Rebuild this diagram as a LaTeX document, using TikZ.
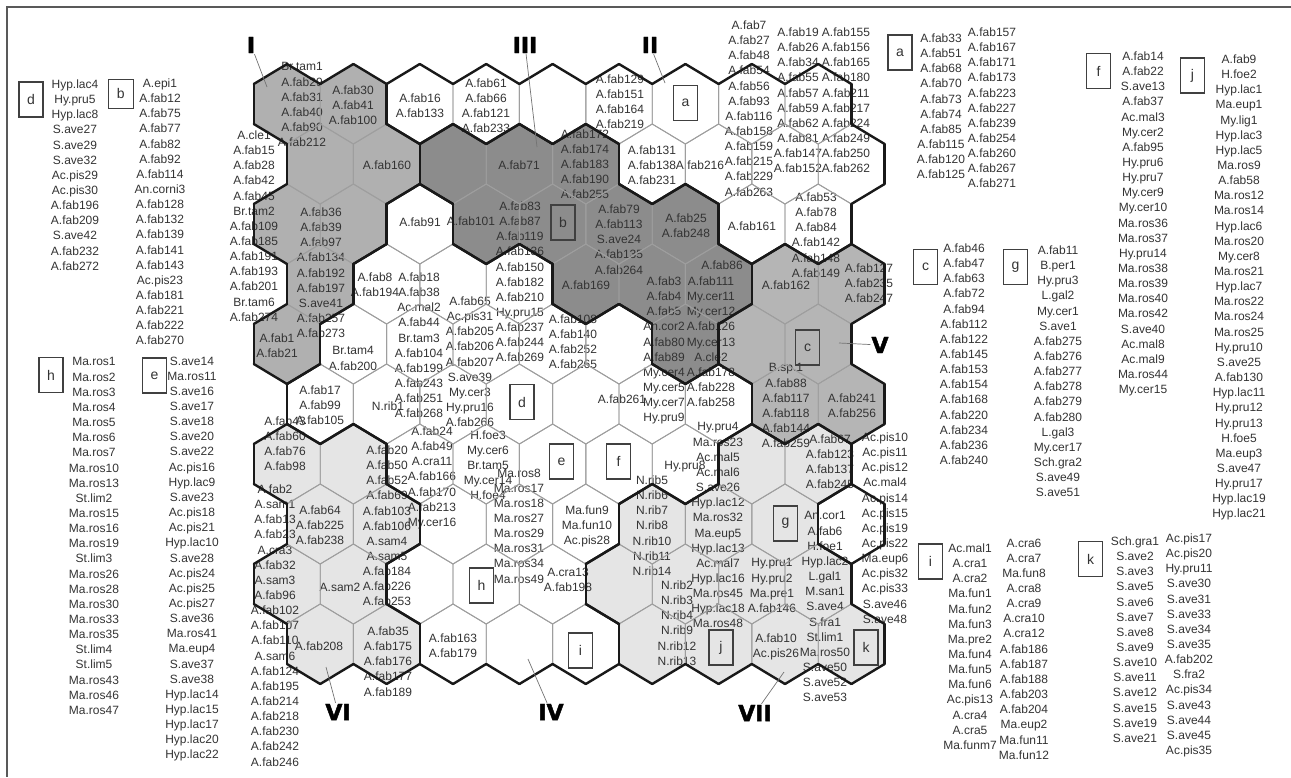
\documentclass[tikz,border=0pt]{standalone}
\usepackage{fontspec}
\setmainfont{Liberation Sans}
\newfontfamily\romfont{DejaVu Sans}[BoldFeatures={FakeBold=2}]

% cluster colours (by cluster id)
\colorlet{cl0}{white}
\colorlet{cl1}{black!31}
\colorlet{cl2}{white}
\colorlet{cl3}{black!45}
\colorlet{cl4}{white}
\colorlet{cl5}{black!29}
\colorlet{cl6}{black!10}
\colorlet{cl7}{black!10}
\colorlet{cl8}{white}

\newcommand\lblsize{\fontsize{12}{15.15}\selectfont}
\newcommand\tagsize{\fontsize{14}{14}\selectfont}
\newcommand\romsize{\fontsize{22}{22}\selectfont}

% cluster of every map unit, row by row (10 rows, 9 units)
\def\somgrid{{1,1,2,2,2,2,2,2,2,
              1,1,3,3,3,2,2,2,2,
              1,1,4,3,3,3,3,2,2,
              1,4,4,4,3,3,3,5,5,
              1,4,4,4,4,4,3,5,5,
              4,4,4,4,4,4,4,5,5,
              6,6,4,4,4,4,4,7,7,
              6,6,4,4,4,7,7,7,8,
              6,6,4,4,4,7,7,7,7,
              6,6,4,4,4,7,7,7,7}}

% cluster of unit (#1,#2) into \clv, 0 outside the map
\newcommand\somcl[2]{%
  \pgfmathtruncatemacro\cra{#1}%
  \pgfmathtruncatemacro\crb{#2}%
  \def\clv{0}%
  \ifnum\cra>-1 \ifnum\cra<10 \ifnum\crb>-1 \ifnum\crb<9
    \pgfmathtruncatemacro\clv{\somgrid[\cra*9+\crb]}%
  \fi\fi\fi\fi}

\tikzset{
  lbl/.style={font=\lblsize, align=center, inner sep=0pt, text=black!80, anchor=north, yshift=4.5pt},
  tag/.style={draw=black!75, line width=1.2pt, minimum width=24pt, minimum height=35pt, inner sep=0pt, font=\tagsize, text=black!80},
  roman/.style={font=\romfont\bfseries\romsize, inner sep=1pt},
  pointer/.style={draw=black!55, line width=0.7pt},
  hexline/.style={draw=black!38, line width=0.9pt},
  bnd/.style={draw=black!90, line width=2.4pt, line cap=round},
  frame/.style={draw=black!65, line width=1.2pt}
}

\begin{document}
\begin{tikzpicture}[x=1pt,y=-1pt]
    \useasboundingbox (0,0) rectangle (1291,777);
    \draw[frame] (1291,7) -- (7,7) -- (7,777);

    % Fill map units
    \foreach \r in {0,...,9}{
      \foreach \c in {0,...,8}{
        \pgfmathsetmacro\hx{287+66.4*\c+33.2*mod(\r,2)}
        \pgfmathsetmacro\hy{104+60*\r}
        \somcl{\r}{\c}
        \edef\hexcol{cl\clv}
        \fill[fill=\hexcol] (\hx,\hy) ++(0,-40) -- ++(33.2,20) -- ++(0,40) -- ++(-33.2,20) -- ++(-33.2,-20) -- ++(0,-40) -- cycle;
      }
    }

    % Side lists
    \node[tag] (tagd) at (31,99.5) {d};
    \node[lbl] (listd) at (75,84) {Hyp.lac4\\Hy.pru5\\Hyp.lac8\\S.ave27\\S.ave29\\S.ave32\\Ac.pis29\\Ac.pis30\\A.fab196\\A.fab209\\S.ave42\\A.fab232\\A.fab272};
    \node[tag, minimum width=25pt, minimum height=29pt] (tagb) at (120.8,93.8) {b};
    \node[lbl] (listb) at (160,83) {A.epi1\\A.fab12\\A.fab75\\A.fab77\\A.fab82\\A.fab92\\A.fab114\\An.corni3\\A.fab128\\A.fab132\\A.fab139\\A.fab141\\A.fab143\\Ac.pis23\\A.fab181\\A.fab221\\A.fab222\\A.fab270};
    \node[tag] (tagh) at (51,375) {h};
    \node[lbl] (listh) at (94,362) {Ma.ros1\\Ma.ros2\\Ma.ros3\\Ma.ros4\\Ma.ros5\\Ma.ros6\\Ma.ros7\\Ma.ros10\\Ma.ros13\\St.lim2\\Ma.ros15\\Ma.ros16\\Ma.ros19\\St.lim3\\Ma.ros26\\Ma.ros28\\Ma.ros30\\Ma.ros33\\Ma.ros35\\St.lim4\\St.lim5\\Ma.ros43\\Ma.ros46\\Ma.ros47};
    \node[tag] (tage) at (154.5,375.5) {e};
    \node[lbl] (liste) at (192,361) {S.ave14\\Ma.ros11\\S.ave16\\S.ave17\\S.ave18\\S.ave20\\S.ave22\\Ac.pis16\\Hyp.lac9\\S.ave23\\Ac.pis18\\Ac.pis21\\Hyp.lac10\\S.ave28\\Ac.pis24\\Ac.pis25\\Ac.pis27\\S.ave36\\Ma.ros41\\Ma.eup4\\S.ave37\\S.ave38\\Hyp.lac14\\Hyp.lac15\\Hyp.lac17\\Hyp.lac20\\Hyp.lac22};
    \node[tag] (taga) at (900,52.5) {a};
    \node[lbl] (lista) at (941,38) {A.fab33\\A.fab51\\A.fab68\\A.fab70\\A.fab73\\A.fab74\\A.fab85\\A.fab115\\A.fab120\\A.fab125};
    \node[lbl] (listaa) at (992,32) {A.fab157\\A.fab167\\A.fab171\\A.fab173\\A.fab223\\A.fab227\\A.fab239\\A.fab254\\A.fab260\\A.fab267\\A.fab271};
    \node[tag] (tagf) at (1098.5,71) {f};
    \node[lbl] (listf) at (1143,56) {A.fab14\\A.fab22\\S.ave13\\A.fab37\\Ac.mal3\\My.cer2\\A.fab95\\Hy.pru6\\Hy.pru7\\My.cer9\\My.cer10\\Ma.ros36\\Ma.ros37\\Hy.pru14\\Ma.ros38\\Ma.ros39\\Ma.ros40\\Ma.ros42\\S.ave40\\Ac.mal8\\Ac.mal9\\Ma.ros44\\My.cer15};
    \node[tag] (tagj) at (1192.5,75.5) {j};
    \node[lbl] (listj) at (1239,59) {A.fab9\\H.foe2\\Hyp.lac1\\Ma.eup1\\My.lig1\\Hyp.lac3\\Hyp.lac5\\Ma.ros9\\A.fab58\\Ma.ros12\\Ma.ros14\\Hyp.lac6\\Ma.ros20\\My.cer8\\Ma.ros21\\Hyp.lac7\\Ma.ros22\\Ma.ros24\\Ma.ros25\\Hy.pru10\\S.ave25\\A.fab130\\Hyp.lac11\\Hy.pru12\\Hy.pru13\\H.foe5\\Ma.eup3\\S.ave47\\Hy.pru17\\Hyp.lac19\\Hyp.lac21};
    \node[tag] (tagc) at (925.5,267) {c};
    \node[lbl] (listc) at (964,248) {A.fab46\\A.fab47\\A.fab63\\A.fab72\\A.fab94\\A.fab112\\A.fab122\\A.fab145\\A.fab153\\A.fab154\\A.fab168\\A.fab220\\A.fab234\\A.fab236\\A.fab240};
    \node[tag] (tagg) at (1015.5,267) {g};
    \node[lbl] (listg) at (1058,250) {A.fab11\\B.per1\\Hy.pru3\\L.gal2\\My.cer1\\S.ave1\\A.fab275\\A.fab276\\A.fab277\\A.fab278\\A.fab279\\A.fab280\\L.gal3\\My.cer17\\Sch.gra2\\S.ave49\\S.ave51};
    \node[tag] (tagi) at (930.5,561.5) {i};
    \node[lbl] (listi) at (970,548) {Ac.mal1\\A.cra1\\A.cra2\\Ma.fun1\\Ma.fun2\\Ma.fun3\\Ma.pre2\\Ma.fun4\\Ma.fun5\\Ma.fun6\\Ac.pis13\\A.cra4\\A.cra5\\Ma.funm7};
    \node[lbl] (listii) at (1024,543) {A.cra6\\A.cra7\\Ma.fun8\\A.cra8\\A.cra9\\A.cra10\\A.cra12\\A.fab186\\A.fab187\\A.fab188\\A.fab203\\A.fab204\\Ma.eup2\\Ma.fun11\\Ma.fun12};
    \node[tag] (tagk) at (1090.5,559) {k};
    \node[lbl] (listk) at (1135,541) {Sch.gra1\\S.ave2\\S.ave3\\S.ave5\\S.ave6\\S.ave7\\S.ave8\\S.ave9\\S.ave10\\S.ave11\\S.ave12\\S.ave15\\S.ave19\\S.ave21};
    \node[lbl] (listkk) at (1189,538) {Ac.pis17\\Ac.pis20\\Hy.pru11\\S.ave30\\S.ave31\\S.ave33\\S.ave34\\S.ave35\\A.fab202\\S.fra2\\Ac.pis34\\S.ave43\\S.ave44\\S.ave45\\Ac.pis35};

    % Unit labels
    \node[lbl] (u00) at (302,67) {Br.tam1\\A.fab29\\A.fab31\\A.fab40\\A.fab90\\A.fab212};
    \node[lbl] (u01) at (353,90) {A.fab30\\A.fab41\\A.fab100};
    \node[lbl] (u02) at (420,98) {A.fab16\\A.fab133};
    \node[lbl] (u03) at (486,83) {A.fab61\\A.fab66\\A.fab121\\A.fab233};
    \node[lbl] (u05) at (620,79) {A.fab129\\A.fab151\\A.fab164\\A.fab219};
    \node[lbl] (u07) at (749,25) {A.fab7\\A.fab27\\A.fab48\\A.fab54\\A.fab56\\A.fab93\\A.fab116\\A.fab158\\A.fab159\\A.fab215\\A.fab229\\A.fab263};
    \node[lbl] (u08) at (798,32) {A.fab19\\A.fab26\\A.fab34\\A.fab55\\A.fab57\\A.fab59\\A.fab62\\A.fab81\\A.fab147\\A.fab152};
    \node[lbl] (u08b) at (846,32) {A.fab155\\A.fab156\\A.fab165\\A.fab180\\A.fab211\\A.fab217\\A.fab224\\A.fab249\\A.fab250\\A.fab262};
    \node[lbl] (u20) at (254,135) {A.cle1\\A.fab15\\A.fab28\\A.fab42\\A.fab45\\Br.tam2\\A.fab109\\A.fab185\\A.fab191\\A.fab193\\A.fab201\\Br.tam6\\A.fab274};
    \node[lbl] (u11) at (387,165) {A.fab160};
    \node[lbl] (u30) at (321,212) {A.fab36\\A.fab39\\A.fab97\\A.fab134\\A.fab192\\A.fab197\\S.ave41\\A.fab257\\A.fab273};
    \node[lbl] (u22) at (420,222) {A.fab91};
    \node[lbl] (u23) at (471,221) {A.fab101};
    \node[lbl] (u13) at (519,165) {A.fab71};
    \node[lbl] (u14) at (585,134) {A.fab172\\A.fab174\\A.fab183\\A.fab190\\A.fab255};
    \node[lbl] (u15) at (652,150) {A.fab131\\A.fab138\\A.fab231};
    \node[lbl] (u16) at (700,165) {A.fab216};
    \node[lbl] (u33) at (520,206) {A.fab83\\A.fab87\\A.fab119\\A.fab136\\A.fab150\\A.fab182\\A.fab210\\Hy.pru15\\A.fab237\\A.fab244\\A.fab269};
    \node[lbl] (u25) at (619,209) {A.fab79\\A.fab113\\S.ave24\\A.fab135\\A.fab264};
    \node[lbl] (u26) at (686,218) {A.fab25\\A.fab248};
    \node[lbl] (u27) at (752,226) {A.fab161};
    \node[lbl] (u28) at (816,197) {A.fab53\\A.fab78\\A.fab84\\A.fab142\\A.fab148\\A.fab149};
    \node[lbl] (u31) at (375,277) {A.fab8\\A.fab194};
    \node[lbl] (u42) at (419,277) {A.fab18\\A.fab38\\Ac.mal2\\A.fab44\\Br.tam3\\A.fab104\\A.fab199\\A.fab243\\A.fab251\\A.fab268};
    \node[lbl] (u32) at (470,301) {A.fab65\\Ac.pis31\\A.fab205\\A.fab206\\A.fab207\\S.ave39\\My.cer3\\Hy.pru16\\A.fab266};
    \node[lbl] (u34) at (586,285) {A.fab169};
    \node[lbl] (u35) at (664,281) {A.fab3\\A.fab4\\A.fab5\\An.cor2\\A.fab80\\A.fab89\\My.cer4\\My.cer5\\My.cer7\\Hy.pru9};
    \node[lbl] (u36) at (722,265) {A.fab86};
    \node[lbl] (u36b) at (711,281) {A.fab111\\My.cer11\\My.cer12\\A.fab126\\My.cer13\\A.cle2\\A.fab178\\A.fab228\\A.fab258};
    \node[lbl] (u37) at (786,285) {A.fab162};
    \node[lbl] (u38) at (869,268) {A.fab127\\A.fab235\\A.fab247};
    \node[lbl] (u43) at (573,319) {A.fab108\\A.fab140\\A.fab252\\A.fab265};
    \node[lbl] (u40) at (277,338) {A.fab1\\A.fab21};
    \node[lbl] (u41) at (353,351) {Br.tam4\\A.fab200};
    \node[lbl] (u50) at (320,390) {A.fab17\\A.fab99\\A.fab105};
    \node[lbl] (u51) at (388,406) {N.rib1};
    \node[lbl] (u54) at (622,399) {A.fab261};
    \node[lbl] (u57) at (786,368) {B.sp.1\\A.fab88\\A.fab117\\A.fab118\\A.fab144\\A.fab259};
    \node[lbl] (u58) at (852,398) {A.fab241\\A.fab256};
    \node[lbl] (u60) at (285,421) {A.fab43\\A.fab60\\A.fab76\\A.fab98};
    \node[lbl] (u62) at (432,431) {A.fab24\\A.fab49\\A.cra11\\A.fab166\\A.fab170\\A.fab213\\My.cer16};
    \node[lbl] (u63) at (488,435) {H.foe3\\My.cer6\\Br.tam5\\My.cer14\\H.foe4};
    \node[lbl] (u66) at (718,427) {Hy.pru4\\Ma.ros23\\Ac.mal5\\Ac.mal6\\S.ave26\\Hyp.lac12\\Ma.ros32\\Ma.eup5\\Hyp.lac13\\Ac.mal7\\Hyp.lac16\\Ma.ros45\\Hyp.lac18\\Ma.ros48};
    \node[lbl] (u68) at (830,439) {A.fab67\\A.fab123\\A.fab137\\A.fab245};
    \node[lbl] (u78) at (885,437) {Ac.pis10\\Ac.pis11\\Ac.pis12\\Ac.mal4\\Ac.pis14\\Ac.pis15\\Ac.pis19\\Ac.pis22\\Ma.eup6\\Ac.pis32\\Ac.pis33\\S.ave46\\S.ave48};
    \node[lbl] (u71) at (387,450) {A.fab20\\A.fab50\\A.fab52\\A.fab69\\A.fab103\\A.fab106\\A.sam4\\A.sam5\\A.fab184\\A.fab226\\A.fab253};
    \node[lbl] (u66b) at (685,465) {Hy.pru8};
    \node[lbl] (u73) at (519,473) {Ma.ros8\\Ma.ros17\\Ma.ros18\\Ma.ros27\\Ma.ros29\\Ma.ros31\\Ma.ros34\\Ma.ros49};
    \node[lbl] (u75) at (652,480) {N.rib5\\N.rib6\\N.rib7\\N.rib8\\N.rib10\\N.rib11\\N.rib14};
    \node[lbl] (u80) at (275,489) {A.fab2\\A.sam1\\A.fab13\\A.fab23\\A.cra3\\A.fab32\\A.sam3\\A.fab96\\A.fab102\\A.fab107\\A.fab110\\A.sam6\\A.fab124\\A.fab195\\A.fab214\\A.fab218\\A.fab230\\A.fab242\\A.fab246};
    \node[lbl] (u70) at (320,510) {A.fab64\\A.fab225\\A.fab238};
    \node[lbl] (u74) at (587,510) {Ma.fun9\\Ma.fun10\\Ac.pis28};
    \node[lbl] (u77) at (825,516) {An.cor1\\A.fab6\\H.foe1\\Hyp.lac2\\L.gal1\\M.san1\\S.ave4\\S.fra1\\St.lim1\\Ma.ros50\\S.ave50\\S.ave52\\S.ave53};
    \node[lbl] (u87) at (772,563) {Hy.pru1\\Hy.pru2\\Ma.pre1\\A.fab146};
    \node[lbl] (u84) at (568,572) {A.cra13\\A.fab198};
    \node[lbl] (u81) at (340,587) {A.sam2};
    \node[lbl] (u86) at (677,585) {N.rib2\\N.rib3\\N.rib4\\N.rib9\\N.rib12\\N.rib13};
    \node[lbl] (u90) at (319,646) {A.fab208};
    \node[lbl] (u91) at (388,631) {A.fab35\\A.fab175\\A.fab176\\A.fab177\\A.fab189};
    \node[lbl] (u92) at (453,638) {A.fab163\\A.fab179};
    \node[lbl] (u97) at (776,638) {A.fab10\\Ac.pis26};

    % Group tags in the map
    \node[tag] (mapa) at (685.5,103) {a};
    \node[tag] (mapb) at (563,222.5) {b};
    \node[tag] (mapc) at (807.5,347.5) {c};
    \node[tag] (mapd) at (522,402) {d};
    \node[tag] (mape) at (561.5,461.5) {e};
    \node[tag] (mapf) at (618.5,461.5) {f};
    \node[tag] (mapg) at (785.5,523.5) {g};
    \node[tag] (maph) at (481.5,585.5) {h};
    \node[tag] (mapi) at (580.5,650.5) {i};
    \node[tag] (mapj) at (721,647.5) {j};
    \node[tag] (mapk) at (866,647.5) {k};

    % Unit outlines
    \foreach \r in {0,...,9}{
      \foreach \c in {0,...,8}{
        \pgfmathsetmacro\hx{287+66.4*\c+33.2*mod(\r,2)}
        \pgfmathsetmacro\hy{104+60*\r}
        \draw[hexline] (\hx,\hy) ++(0,-40) -- ++(33.2,20) -- ++(0,40) -- ++(-33.2,20) -- ++(-33.2,-20) -- ++(0,-40) -- cycle;
      }
    }

    % Cluster borders
    \foreach \r in {0,...,9}{
      \foreach \c in {0,...,8}{
        \pgfmathsetmacro\hx{287+66.4*\c+33.2*mod(\r,2)}
        \pgfmathsetmacro\hy{104+60*\r}
        \pgfmathtruncatemacro\o{mod(\r,2)}
        \somcl{\r}{\c}\let\me\clv
        \somcl{\r}{\c+1}\ifnum\clv=\me\else\draw[bnd] (\hx,\hy) ++(33.2,-20) -- ++(0,40);\fi
        \somcl{\r}{\c-1}\ifnum\clv=\me\else\draw[bnd] (\hx,\hy) ++(-33.2,-20) -- ++(0,40);\fi
        \somcl{\r-1}{\c+\o}\ifnum\clv=\me\else\draw[bnd] (\hx,\hy) ++(0,-40) -- ++(33.2,20);\fi
        \somcl{\r-1}{\c-1+\o}\ifnum\clv=\me\else\draw[bnd] (\hx,\hy) ++(0,-40) -- ++(-33.2,20);\fi
        \somcl{\r+1}{\c+\o}\ifnum\clv=\me\else\draw[bnd] (\hx,\hy) ++(0,40) -- ++(33.2,-20);\fi
        \somcl{\r+1}{\c-1+\o}\ifnum\clv=\me\else\draw[bnd] (\hx,\hy) ++(0,40) -- ++(-33.2,-20);\fi
      }
    }

    % Cluster numbers
    \node[roman] (numI) at (251,45) {I};
    \node[roman] (numII) at (650,45) {II};
    \node[roman] (numIII) at (525,45) {III};
    \node[roman] (numIV) at (551,712) {IV};
    \node[roman] (numV) at (880,345) {V};
    \node[roman] (numVI) at (338,712) {VI};
    \node[roman] (numVII) at (755,713) {VII};
    \coordinate (ptI) at (267,87);
    \coordinate (ptII) at (665,83);
    \coordinate (ptIII) at (537,147);
    \coordinate (ptIV) at (528,659);
    \coordinate (ptV) at (839,343);
    \coordinate (ptVI) at (326,667);
    \coordinate (ptVII) at (784,672);
    \draw[pointer] (numI) -- (ptI);
    \draw[pointer] (numII) -- (ptII);
    \draw[pointer] (numIII) -- (ptIII);
    \draw[pointer] (numIV) -- (ptIV);
    \draw[pointer] (numV) -- (ptV);
    \draw[pointer] (numVI) -- (ptVI);
    \draw[pointer] (numVII) -- (ptVII);

\end{tikzpicture}
\end{document}
